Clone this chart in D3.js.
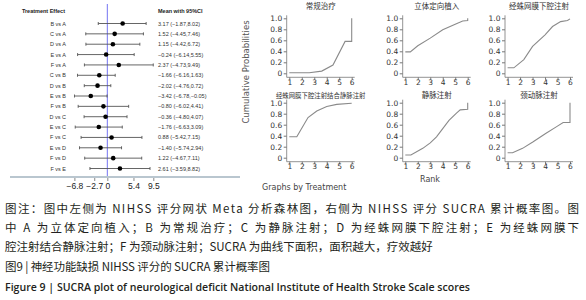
<!DOCTYPE html>
<html>
<head>
<meta charset="utf-8">
<script src="https://cdn.jsdelivr.net/npm/d3@7"></script>
<style>
  body { margin: 0; background: #fff; }
  svg { display: block; }
</style>
</head>
<body>
<div id="chart"></div>
<script>
// ---------- data ----------
const comparisons = ["B vs A","C vs A","D vs A","E vs A","F vs A","C vs B","D vs B","E vs B",
                     "F vs B","D vs C","E vs C","F vs C","E vs D","F vs D","F vs E"];
const means = [3.17, 1.52, 1.15, -0.24, 2.37, -1.66, -2.02, -3.42, -0.80, -0.36, -1.76, 0.88, -1.40, 1.22, 2.61];
const lower = [-1.87, -4.45, -4.42, -6.14, -4.73, -6.16, -4.76, -6.78, -6.02, -4.80, -6.63, -5.42, -5.74, -4.67, -3.59];
const upper = [8.02, 7.46, 6.72, 5.55, 9.49, 1.63, 0.72, -0.05, 4.41, 4.07, 3.09, 7.15, 2.94, 7.11, 8.82];
const forestTicks = [-6.8, -2.7, 0, 5.4, 9.5];

const panelTitles = ["常规治疗","立体定向植入","经蛛网膜下腔注射",
                     "经蛛网膜下腔注射结合静脉注射","静脉注射","颈动脉注射"];
// cumulative probabilities [rank, probability]
const curveB = [[1,0.01],[2.6,0.01],[3.6,0.04],[4.5,0.15],[5.47,0.58],[6,0.58],[6,1.0]];
const curveA = [[1,0.39],[1.4,0.39],[2,0.5],[3,0.64],[4,0.79],[5,0.89],[5.6,0.95],[6,0.96],[6,1.0]];
const curveD = [[1,0.1],[1.5,0.1],[2.3,0.25],[3,0.49],[4,0.7],[4.6,0.85],[5.25,0.94],[5.8,0.96],[6,0.99]];
const curveE = [[1,0.38],[1.6,0.38],[2.5,0.73],[3.2,0.85],[4,0.93],[4.8,0.97],[6,0.99]];
const curveC = [[1,0.05],[1.45,0.05],[2.4,0.17],[3,0.27],[3.5,0.38],[4,0.53],[4.5,0.68],[5.1,0.81],[5.4,0.87],[6,0.88],[6,1.0]];
const curveF = [[1,0.09],[1.4,0.09],[2.2,0.17],[3.05,0.29],[4.05,0.44],[4.9,0.56],[5.45,0.64],[6,0.64],[6,1.0]];
const curves = [curveB, curveA, curveD, curveE, curveC, curveF];

const rankTicks = [1,2,3,4,5,6];
const probTicks = [0,0.2,0.4,0.6,0.8,1.0];

const captionLines = [
  "图注：图中左侧为 NIHSS 评分网状 Meta 分析森林图，右侧为 NIHSS 评分 SUCRA 累计概率图。图",
  "中 A 为立体定向植入；B 为常规治疗；C 为静脉注射；D 为经蛛网膜下腔注射；E 为经蛛网膜下",
  "腔注射结合静脉注射；F 为颈动脉注射；SUCRA 为曲线下面积，面积越大，疗效越好"
];
const figTitleCn = "图9 | 神经功能缺损 NIHSS 评分的 SUCRA 累计概率图";
const figTitleEn = "Figure 9  |  SUCRA plot of neurological deficit National Institute of Health Stroke Scale scores";

// ---------- svg ----------
const width = 586, height = 300;
const svg = d3.select("#chart").append("svg")
  .attr("width", width).attr("height", height);

const sans = "'Liberation Sans', Arial, sans-serif";
const cjk = "'Noto Sans CJK SC', sans-serif";

// ---------- forest plot ----------
const fx = d3.scaleLinear().domain([-6.8, 9.5]).range([74.4, 153.3]);
const fy = d3.scalePoint().domain(comparisons).range([23.5, 168.5]);

const forest = svg.append("g").attr("class", "forest");

forest.append("text")
  .attr("x", 65).attr("y", 13)
  .attr("text-anchor", "end")
  .attr("font-family", sans).attr("font-size", "5.5px").attr("font-weight", "bold")
  .attr("fill", "#222")
  .text("Treatment Effect");

forest.append("text")
  .attr("x", 158).attr("y", 13)
  .attr("font-family", sans).attr("font-size", "5.5px").attr("font-weight", "bold")
  .attr("fill", "#222")
  .text("Mean with 95%CI");

// reference line at 0
forest.append("line")
  .attr("x1", fx(0)).attr("x2", fx(0))
  .attr("y1", 4).attr("y2", 176)
  .attr("stroke", "#7474f2").attr("stroke-width", 1);

const rows = forest.selectAll("g.row")
  .data(comparisons)
  .enter().append("g")
  .attr("class", "row")
  .attr("transform", d => "translate(0," + fy(d) + ")");

rows.append("text")
  .attr("x", 66).attr("y", 2)
  .attr("text-anchor", "end")
  .attr("font-family", sans).attr("font-size", "5.5px")
  .attr("fill", "#333")
  .text(d => d);

rows.append("line")
  .attr("x1", (d, i) => fx(lower[i])).attr("x2", (d, i) => fx(upper[i]))
  .attr("stroke", "#555").attr("stroke-width", 0.9);

rows.selectAll("line.cap")
  .data((d, i) => [lower[i], upper[i]])
  .enter().append("line")
  .attr("class", "cap")
  .attr("x1", v => fx(v)).attr("x2", v => fx(v))
  .attr("y1", -1.5).attr("y2", 1.5)
  .attr("stroke", "#555").attr("stroke-width", 0.9);

rows.append("circle")
  .attr("cx", (d, i) => fx(means[i]))
  .attr("r", 2.3)
  .attr("fill", "#000");

const f2 = d3.format(".2f");
rows.append("text")
  .attr("x", 158).attr("y", 2)
  .attr("font-family", sans).attr("font-size", "5.5px")
  .attr("fill", "#333")
  .text((d, i) => f2(means[i]) + " (" + f2(lower[i]) + "," + f2(upper[i]) + ")");

// axis
forest.append("line")
  .attr("x1", 10).attr("x2", 240)
  .attr("y1", 177).attr("y2", 177)
  .attr("stroke", "#b9c6cf").attr("stroke-width", 2);

const fAxis = forest.append("g")
  .attr("transform", "translate(0,178)")
  .call(d3.axisBottom(fx).tickValues(forestTicks).tickSize(3).tickFormat(d3.format("")));
fAxis.select(".domain").remove();
fAxis.selectAll(".tick line").attr("stroke", "#888");
fAxis.selectAll(".tick text")
  .attr("y", 5)
  .attr("font-family", sans).attr("font-size", "8.5px")
  .attr("fill", "#222")
  .text(d => d < 0 ? "\u2212" + Math.abs(d) : d);

// ---------- SUCRA panels ----------
const axisXs = [286.7, 402.7, 505];
const rowTops = [18.3, 102.7];
const titleYs = [9, 97.5];
const titleSizes = [7.5, 7.5, 7.5, 6.4, 7.5, 7.5];

panelTitles.forEach((title, p) => {
  const ax = axisXs[p % 3];
  const r = Math.floor(p / 3);
  const top = rowTops[r];
  const x = d3.scaleLinear().domain([1, 6]).range([ax + 2.6, ax + 65]);
  const y = d3.scaleLinear().domain([0, 1]).range([top + 55, top]);

  const g = svg.append("g").attr("class", "panel");

  g.append("text")
    .attr("x", ax + 34).attr("y", titleYs[r])
    .attr("text-anchor", "middle")
    .attr("font-family", cjk).attr("font-size", titleSizes[p] + "px")
    .attr("fill", "#333")
    .text(title);

  const yAxis = g.append("g")
    .attr("transform", "translate(" + ax + ",0)")
    .call(d3.axisLeft(y).tickValues(probTicks).tickSize(3)
      .tickFormat(d => d === 0 ? "0" : d3.format(".1f")(d)));
  yAxis.select(".domain").attr("d", "M0," + (top - 3) + "V" + (top + 59));

  const xAxis = g.append("g")
    .attr("transform", "translate(0," + (top + 59) + ")")
    .call(d3.axisBottom(x).tickValues(rankTicks).tickSize(2.5).tickFormat(d3.format("d")));
  xAxis.select(".domain").attr("d", "M" + ax + ",0H" + (ax + 68));

  g.selectAll(".domain").attr("stroke", "#777").attr("stroke-width", 0.8);
  g.selectAll(".tick line").attr("stroke", "#777");
  yAxis.selectAll(".tick text").attr("x", -4.5);
  xAxis.selectAll(".tick text").attr("y", 2);
  g.selectAll(".tick text")
    .attr("font-family", "'DejaVu Sans', sans-serif").attr("font-size", "7.5px")
    .attr("fill", "#333");

  g.append("path")
    .datum(curves[p])
    .attr("fill", "none")
    .attr("stroke", "#8a8a8a").attr("stroke-width", 1.1)
    .attr("d", d3.line().x(d => x(d[0])).y(d => y(d[1])));
});

svg.append("text")
  .attr("transform", "translate(249,72) rotate(-90)")
  .attr("text-anchor", "middle")
  .attr("font-family", "'DejaVu Sans', sans-serif").attr("font-size", "8.5px")
  .attr("fill", "#555")
  .text("Cumulative Probabilities");

svg.append("text")
  .attr("x", 430).attr("y", 182)
  .attr("text-anchor", "middle")
  .attr("font-family", "'DejaVu Sans', sans-serif").attr("font-size", "8px")
  .attr("fill", "#444")
  .text("Rank");

svg.append("text")
  .attr("x", 262).attr("y", 189.5)
  .attr("font-family", "'DejaVu Sans', sans-serif").attr("font-size", "8px")
  .attr("fill", "#444")
  .text("Graphs by Treatment");

// ---------- caption ----------
const cap = svg.append("g").attr("class", "caption");
const capY = [212.5, 231.5, 250.5];
cap.selectAll("text.note")
  .data(captionLines)
  .enter().append("text")
  .attr("class", "note")
  .attr("x", 5).attr("y", (d, i) => capY[i])
  .attr("font-family", cjk).attr("font-size", "11.5px")
  .attr("fill", "#231f20")
  .attr("textLength", (d, i) => i < 2 ? 574 : null)
  .attr("lengthAdjust", "spacing")
  .text(d => d);

cap.append("text")
  .attr("x", 5).attr("y", 271)
  .attr("font-family", cjk).attr("font-size", "11.5px")
  .attr("fill", "#231f20")
  .attr("textLength", 265).attr("lengthAdjust", "spacing")
  .text(figTitleCn);

cap.append("text")
  .attr("x", 5).attr("y", 291)
  .attr("font-family", "'Open Sans', sans-serif").attr("font-size", "10.5px").attr("font-weight", 600)
  .attr("fill", "#231f20")
  .attr("textLength", 465).attr("lengthAdjust", "spacingAndGlyphs")
  .text(figTitleEn);
</script>
</body>
</html>
